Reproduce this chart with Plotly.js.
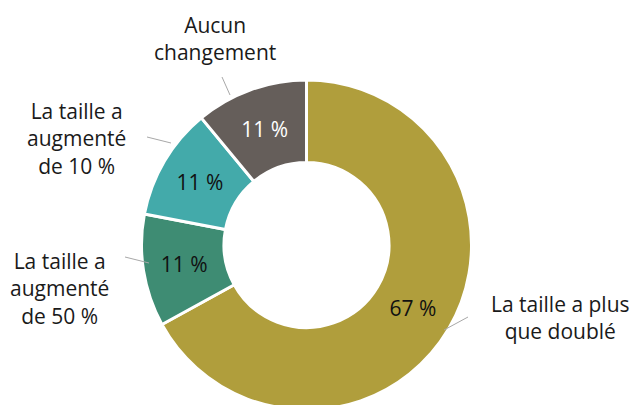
<!DOCTYPE html>
<html>
<head>
<meta charset="utf-8">
<script src="https://cdn.plot.ly/plotly-3.0.1.min.js"></script>
<style>
html,body{margin:0;padding:0;overflow:hidden;background:#fff;}
#chart{width:633px;height:420px;}
</style>
</head>
<body>
<div id="chart"></div>
<script>
// Data
var categories = ["La taille a plus<br>que doublé", "La taille a<br>augmenté<br>de 50 %", "La taille a<br>augmenté<br>de 10 %", "Aucun<br>changement"];
var values = [67, 11, 11, 11];
var colors = ["#B09E3C", "#3E8C73", "#43AAAA", "#655E5A"];
var textColors = ["#111111", "#111111", "#111111", "#FFFFFF"];

// Layout helpers (pixel -> paper)
var W = 633, H = 420;
function px(x){ return x / W; }
function py(y){ return 1 - y / H; }

// Label block centres and leader lines (layout positions)
var labelPos = [[560, 317], [60, 288], [76, 139], [215, 38]];
var leaders = [[[444, 330], [468, 317]], [[149, 263], [125, 257]], [[171, 143], [147, 137]], [[230, 95], [222, 77]]];

var trace = {
  type: "pie",
  values: values,
  labels: categories,
  text: values.map(function(v){ return v + " %"; }),
  textinfo: "text",
  textposition: "inside",
  insidetextorientation: "horizontal",
  insidetextfont: {family: "Open Sans, sans-serif", size: 21, color: textColors},
  hole: 0.5,
  sort: false,
  direction: "clockwise",
  rotation: 0,
  marker: {colors: colors, line: {color: "#FFFFFF", width: 3}},
  domain: {x: [px(141.5), px(471.5)], y: [py(410), py(80)]},
  hoverinfo: "none"
};

var annotations = categories.map(function(c, i){
  return {
    text: c, showarrow: false, xref: "paper", yref: "paper",
    x: px(labelPos[i][0]), y: py(labelPos[i][1]),
    xanchor: "center", yanchor: "middle", align: "center",
    font: {family: "Open Sans, sans-serif", size: 21, color: "#1a1a1a"}
  };
});

var shapes = leaders.map(function(l){
  return {
    type: "line", xref: "paper", yref: "paper",
    x0: px(l[0][0]), y0: py(l[0][1]), x1: px(l[1][0]), y1: py(l[1][1]),
    line: {color: "#A8A8A8", width: 1}
  };
});

var layout = {
  width: W, height: H,
  margin: {l: 0, r: 0, t: 0, b: 0},
  showlegend: false,
  paper_bgcolor: "#FFFFFF",
  annotations: annotations,
  shapes: shapes
};

Plotly.newPlot("chart", [trace], layout, {displayModeBar: false, staticPlot: true});
</script>
</body>
</html>
